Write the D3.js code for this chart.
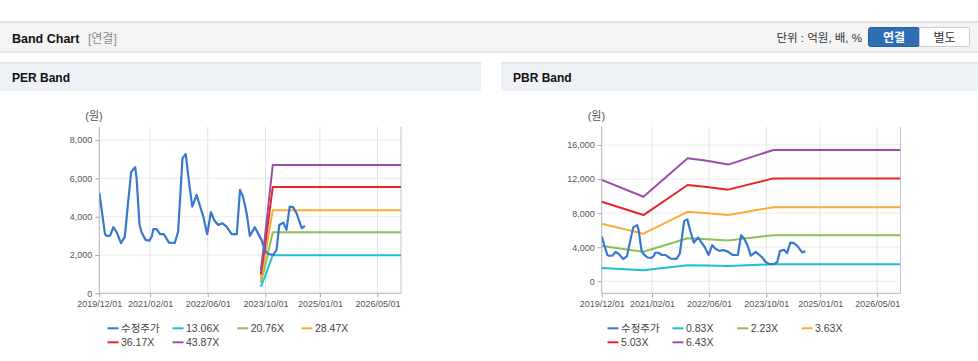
<!DOCTYPE html>
<html><head><meta charset="utf-8">
<script src="https://cdn.jsdelivr.net/npm/d3@7"></script>
<style>
body{margin:0;background:#fff;}
svg{display:block;font-family:"Liberation Sans","Noto Sans CJK KR",Arial,sans-serif;}
</style></head>
<body><svg id="c" width="978" height="361"></svg>
<script>
// ---------- data ----------
const xTickDates = ["2019-12-01","2021-02-01","2022-06-01","2023-10-01","2025-01-01","2026-05-01"];
const xDomain = ["2019-12-01","2026-11-15"];

const priceDates = ["2019-12-01","2020-01-18","2020-02-01","2020-03-01","2020-03-28","2020-04-25","2020-06-01","2020-07-03","2020-07-23","2020-08-25","2020-09-28","2020-10-10","2020-11-04","2020-11-21","2020-12-25","2021-01-25","2021-02-15","2021-02-28","2021-03-28","2021-04-25","2021-05-28","2021-07-10","2021-08-28","2021-09-25","2021-11-01","2021-11-28","2021-12-25","2022-01-22","2022-02-28","2022-03-25","2022-04-25","2022-05-28","2022-06-28","2022-07-25","2022-08-28","2022-10-01","2022-11-07","2022-12-20","2023-02-01","2023-02-28","2023-03-25","2023-04-25","2023-05-22","2023-07-03","2023-08-28","2023-09-25","2023-10-21","2023-12-04","2024-01-02","2024-01-25","2024-02-28","2024-03-25","2024-04-22","2024-05-20","2024-06-18","2024-08-01","2024-08-28"];
const priceValues = [5250,3085,3000,3010,3450,3190,2615,2960,4270,6330,6590,6015,3570,3190,2790,2750,2960,3350,3350,3085,3085,2650,2630,3220,7060,7270,5840,4530,5140,4620,4010,3085,4240,3830,3570,3660,3480,3085,3085,5400,5050,4180,3000,3450,2790,2265,2055,2000,2265,3570,3690,3310,4530,4500,4180,3400,3520];

const perLabels = ["13.06X","20.76X","28.47X","36.17X","43.87X"];
const perBandDates = ["2023-08-22","2023-09-25","2023-12-01","2026-11-15"];
const per1306 = [353, 862, 1990, 1990];
const per2076 = [561, 1370, 3190, 3190];
const per2847 = [769, 1879, 4340, 4340];
const per3617 = [977, 2387, 5545, 5545];
const per4387 = [1184, 2895, 6700, 6700];

const pbrLabels = ["0.83X","2.23X","3.63X","5.03X","6.43X"];
const pbrBandDates = ["2019-12-01","2020-11-20","2021-12-01","2022-05-15","2022-11-10","2023-12-01","2026-11-15"];
const pbr083 = [1560, 1300, 1880, 1840, 1790, 2010, 2010];
const pbr223 = [4150, 3460, 5060, 4950, 4800, 5400, 5400];
const pbr363 = [6760, 5590, 8160, 7990, 7770, 8700, 8700];
const pbr503 = [9340, 7775, 11300, 11080, 10760, 12080, 12080];
const pbr643 = [11910, 9930, 14440, 14150, 13700, 15420, 15420];

const perYTicks = [0,2000,4000,6000,8000];
const pbrYTicks = [0,4000,8000,12000,16000];
const priceLabel = "수정주가";
const colors = ["#3a77cf","#1fbfd3","#8dc152","#fdab34","#e8252b","#9b4ea8"];

// ---------- drawing ----------
const svg = d3.select("#c");
const parse = d3.timeParse("%Y-%m-%d");
const fmt = d3.timeFormat("%Y/%m/%d");

// top header bar
svg.append("rect").attr("x",0).attr("y",21).attr("width",978).attr("height",31).attr("fill","#f4f4f4");
svg.append("rect").attr("x",0).attr("y",21).attr("width",978).attr("height",2).attr("fill","#e2e2e2");
svg.append("rect").attr("x",0).attr("y",51).attr("width",978).attr("height",2).attr("fill","#e9e9e9");
svg.append("text").attr("x",12).attr("y",43).attr("font-size",12.5).attr("font-weight","bold").attr("fill","#111").text("Band Chart");
svg.append("text").attr("x",88).attr("y",43).attr("font-size",12).attr("fill","#8a8a8a").text("[연결]");
svg.append("text").attr("x",862).attr("y",42).attr("text-anchor","end").attr("font-size",11.5).attr("fill","#333").text("단위 : 억원, 배, %");
svg.append("rect").attr("x",868.5).attr("y",27.5).attr("width",51).attr("height",19).attr("rx",2).attr("fill","#2f6eb5").attr("stroke","#285f9c");
svg.append("text").attr("x",894).attr("y",41.5).attr("text-anchor","middle").attr("font-size",12).attr("font-weight","bold").attr("fill","#fff").text("연결");
svg.append("rect").attr("x",919.5).attr("y",27.5).attr("width",50).attr("height",19).attr("rx",2).attr("fill","#fff").attr("stroke","#ccc");
svg.append("text").attr("x",944.5).attr("y",41.5).attr("text-anchor","middle").attr("font-size",12).attr("fill","#333").text("별도");

function panel(px, pw, title){
  svg.append("rect").attr("x",px).attr("y",62).attr("width",pw).attr("height",29).attr("fill","#eef2f7");
  svg.append("rect").attr("x",px).attr("y",62).attr("width",pw).attr("height",2).attr("fill","#e3e7ec");
  svg.append("text").attr("x",px+12).attr("y",82).attr("font-size",12).attr("font-weight","bold").attr("fill","#111").text(title);
}
panel(0,481,"PER Band");
panel(501,477,"PBR Band");

function chart(opt){
  const g = svg.append("g");
  const x = d3.scaleTime().domain(xDomain.map(parse)).range([opt.x0,opt.x1]);
  const y = d3.scaleLinear().domain(opt.yDomain).range([293.3,126.7]);
  const yt = opt.yTicks;
  // grid
  g.selectAll(".hg").data(yt).join("line")
    .attr("x1",opt.x0).attr("x2",opt.x1).attr("y1",d=>y(d)).attr("y2",d=>y(d))
    .attr("stroke","#ececec").attr("stroke-width",1);
  g.selectAll(".vg").data(xTickDates.slice(1)).join("line")
    .attr("x1",d=>x(parse(d))).attr("x2",d=>x(parse(d))).attr("y1",126.7).attr("y2",293.3)
    .attr("stroke","#e4e4e4").attr("stroke-width",1);
  // axes
  const ya = d3.axisLeft(y).tickValues(yt).tickFormat(d3.format(",")).tickSize(4).tickPadding(3);
  const yg = g.append("g").attr("transform",`translate(${opt.x0},0)`).call(ya);
  yg.select(".domain").remove();
  yg.selectAll("line").attr("stroke","#aaa");
  yg.selectAll("text").attr("font-size",9).attr("fill","#555").attr("font-family","Liberation Sans, Arial");
  const xa = d3.axisBottom(x).tickValues(xTickDates.map(parse)).tickFormat(fmt).tickSize(4).tickPadding(3);
  const xg = g.append("g").attr("transform","translate(0,293.3)").call(xa);
  xg.select(".domain").remove();
  xg.selectAll("line").attr("stroke","#aaa");
  xg.selectAll("text").attr("font-size",9).attr("fill","#555").attr("font-family","Liberation Sans, Arial");
  // frame
  g.append("line").attr("x1",opt.x0).attr("x2",opt.x0).attr("y1",126.7).attr("y2",293.3).attr("stroke","#b4b4b4");
  g.append("line").attr("x1",opt.x1).attr("x2",opt.x1).attr("y1",126.7).attr("y2",293.3).attr("stroke","#c4c4c4");
  g.append("line").attr("x1",opt.x0).attr("x2",opt.x1).attr("y1",293.3).attr("y2",293.3).attr("stroke","#b4b4b4");
  // unit
  g.append("text").attr("x",opt.x0-14).attr("y",120).attr("font-size",11).attr("fill","#555").text("(원)");
  // lines
  const line = d3.line().x(d=>x(d[0])).y(d=>y(d[1]));
  const clipId = "clip"+opt.x0;
  svg.append("clipPath").attr("id",clipId).append("rect").attr("x",opt.x0).attr("y",120).attr("width",opt.x1-opt.x0).attr("height",180);
  const lg = g.append("g").attr("clip-path",`url(#${clipId})`);
  opt.bands.forEach((b,i)=>{
    const pts = opt.bandDates.map((d,j)=>[parse(d), b[j]]);
    lg.append("path").attr("d",line(pts)).attr("fill","none").attr("stroke",colors[i+1]).attr("stroke-width",2).attr("stroke-linejoin","round");
  });
  const pp = priceDates.map((d,j)=>[parse(d), priceValues[j]]);
  lg.append("path").attr("d",line(pp)).attr("fill","none").attr("stroke",colors[0]).attr("stroke-width",2.2).attr("stroke-linejoin","round");
  // legend
  const items = [priceLabel].concat(opt.labels);
  const cols = [121,186,250.7,315];
  items.forEach((t,i)=>{
    const r = i<4?0:1, c = i<4?i:i-4;
    const tx = opt.px + cols[c], ty = 328.3 + r*14;
    g.append("line").attr("x1",tx-13.5).attr("x2",tx-2.5).attr("y1",ty).attr("y2",ty).attr("stroke",colors[i]).attr("stroke-width",2);
    g.append("text").attr("x",tx).attr("y",ty).attr("dy","0.36em").attr("font-size",10.5).attr("fill","#444")
      .attr("font-family", i===0?"Noto Sans CJK KR, sans-serif":"Liberation Sans, Arial").text(t);
  });
}

chart({px:0, x0:99.3, x1:401, yDomain:[0,8700], yTicks:perYTicks, labels:perLabels,
  bandDates:perBandDates, bands:[per1306,per2076,per2847,per3617,per4387]});
chart({px:500, x0:601.7, x1:900.5, yDomain:[-1410,18150], yTicks:pbrYTicks, labels:pbrLabels,
  bandDates:pbrBandDates, bands:[pbr083,pbr223,pbr363,pbr503,pbr643]});
</script></body></html>
